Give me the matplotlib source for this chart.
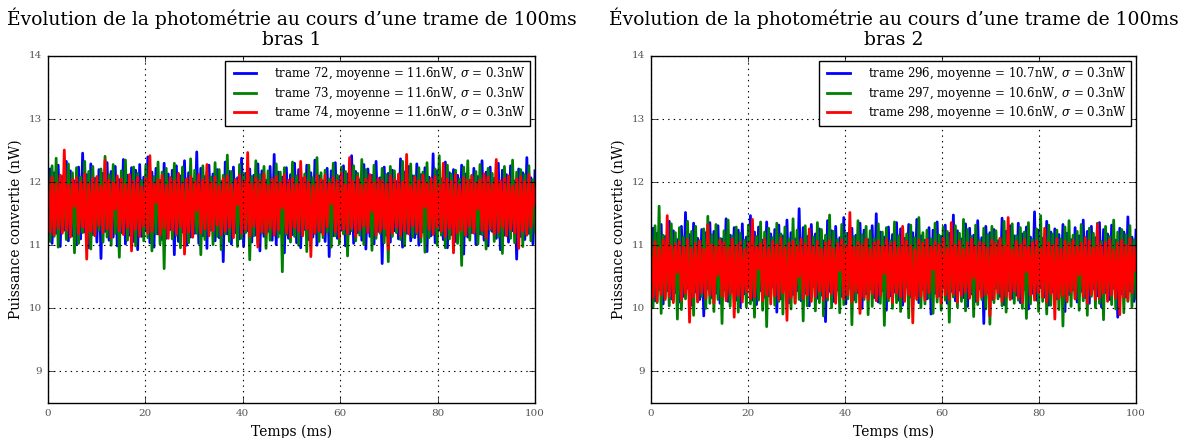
import numpy as np
import matplotlib
matplotlib.use("Agg")
import matplotlib.pyplot as plt

plt.style.use("classic")
plt.rcParams["font.family"] = ["DejaVu Serif"]
plt.rcParams["mathtext.fontset"] = "dejavuserif"

title_left = "Évolution de la photométrie au cours d\u2019une trame de 100ms\nbras 1"
title_right = "Évolution de la photométrie au cours d\u2019une trame de 100ms\nbras 2"
xlabel = "Temps (ms)"
ylabel = "Puissance convertie (nW)"

labels_left = ["trame 72, moyenne = 11.6nW, $\\sigma$ = 0.3nW",
               "trame 73, moyenne = 11.6nW, $\\sigma$ = 0.3nW",
               "trame 74, moyenne = 11.6nW, $\\sigma$ = 0.3nW"]
labels_right = ["trame 296, moyenne = 10.7nW, $\\sigma$ = 0.3nW",
                "trame 297, moyenne = 10.6nW, $\\sigma$ = 0.3nW",
                "trame 298, moyenne = 10.6nW, $\\sigma$ = 0.3nW"]
colors = ["blue", "green", "red"]

# ---- bras 1 (nW), trames 72 / 73 / 74 ----
b1 = [11.12, 12.21, 11.03, 12.15, 11.19, 12.27, 10.98, 12.09, 11.24, 12.33, 11.07, 12.18, 11.15, 12.02, 11.01,
      12.24, 11.10, 12.46, 11.21, 12.12, 10.96, 12.29, 11.17, 12.06, 11.05, 12.20, 10.79, 12.14, 11.22, 12.31,
      11.08, 12.17, 11.13, 12.25, 10.99, 12.04, 11.20, 12.36, 11.02, 12.11, 11.16, 12.23, 11.06, 12.19, 10.93,
      12.28, 11.14, 12.08, 11.23, 12.40, 11.04, 12.16, 10.97, 12.22, 11.18, 12.03, 11.09, 12.30, 11.11, 12.13,
      11.25, 12.19, 10.85, 12.26, 11.06, 12.10, 11.21, 12.34, 11.00, 12.15, 11.13, 12.05, 11.19, 12.48, 11.03,
      12.22, 11.15, 12.09, 10.95, 12.27, 11.24, 12.13, 11.07, 12.20, 11.12, 12.01, 10.74, 12.32, 11.18, 12.17,
      11.02, 12.24, 11.20, 12.07, 11.10, 12.38, 10.98, 12.14, 11.23, 12.21, 11.05, 12.11, 11.16, 12.29, 10.91,
      12.18, 11.14, 12.03, 11.22, 12.25, 11.08, 12.44, 11.01, 12.16, 11.19, 12.08, 10.88, 12.23, 11.11, 12.12,
      11.17, 12.30, 11.04, 12.20, 10.96, 12.06, 11.25, 12.27, 11.09, 12.15, 11.13, 12.35, 11.00, 12.10, 11.21,
      12.02, 11.06, 12.22, 10.82, 12.18, 11.15, 12.31, 11.11, 12.09, 11.24, 12.26, 10.99, 12.13, 11.18, 12.42,
      11.03, 12.17, 11.20, 12.04, 11.08, 12.28, 10.94, 12.21, 11.14, 12.11, 11.02, 12.33, 11.22, 12.07, 10.71,
      12.24, 11.16, 12.14, 11.05, 12.19, 11.23, 12.01, 11.10, 12.37, 10.97, 12.16, 11.19, 12.25, 11.07, 12.10,
      11.12, 12.29, 11.00, 12.12, 11.21, 12.23, 10.90, 12.08, 11.15, 12.45, 11.04, 12.18, 11.24, 12.05, 11.09,
      12.32, 10.96, 12.15, 11.17, 12.20, 11.06, 12.11, 11.25, 12.27, 10.86, 12.13, 11.13, 12.03, 11.20, 12.22,
      11.01, 12.09, 11.18, 12.34, 11.08, 12.16, 10.99, 12.24, 11.22, 12.06, 11.11, 12.30, 10.93, 12.19, 11.16,
      12.12, 11.05, 12.26, 11.23, 12.02, 10.78, 12.21, 11.14, 12.15, 11.09, 12.39, 11.19, 12.07, 11.02, 12.18]
g1 = [12.19, 11.06, 12.26, 11.14, 12.38, 10.97, 12.11, 11.22, 12.04, 11.09, 12.29, 11.17, 12.15, 10.88, 12.23,
      11.03, 12.08, 11.20, 12.33, 11.11, 12.17, 10.94, 12.25, 11.16, 12.02, 11.24, 12.21, 11.05, 12.41, 11.13,
      12.12, 11.00, 12.28, 11.19, 12.06, 10.81, 12.18, 11.23, 12.35, 11.08, 12.10, 11.15, 12.24, 10.99, 12.14,
      11.21, 12.03, 11.07, 12.27, 11.12, 12.20, 10.91, 12.09, 11.18, 12.32, 11.02, 12.16, 10.63, 12.22, 11.25,
      12.07, 11.10, 12.30, 11.16, 12.13, 10.96, 12.24, 11.21, 12.05, 11.04, 12.37, 11.13, 12.19, 11.19, 12.01,
      10.85, 12.26, 11.09, 12.15, 11.23, 12.08, 11.01, 12.31, 11.14, 12.20, 10.93, 12.11, 11.18, 12.43, 11.06,
      12.17, 11.24, 12.04, 10.98, 12.28, 11.11, 12.14, 11.20, 12.22, 10.77, 12.09, 11.15, 12.34, 11.03, 12.12,
      11.19, 12.25, 10.95, 12.18, 11.08, 12.06, 11.22, 12.29, 11.13, 12.16, 10.58, 12.23, 11.17, 12.02, 11.05,
      12.32, 11.14, 12.10, 11.00, 12.21, 11.24, 12.13, 10.90, 12.27, 11.10, 12.07, 11.19, 12.39, 11.06, 12.15,
      11.12, 12.19, 11.21, 12.05, 10.97, 12.30, 11.15, 12.11, 11.02, 12.24, 11.18, 12.17, 10.83, 12.08, 11.23,
      12.26, 11.07, 12.14, 11.16, 12.36, 11.01, 12.20, 11.24, 12.09, 10.92, 12.27, 11.11, 12.03, 11.19, 12.22,
      11.04, 12.12, 10.74, 12.25, 11.14, 12.18, 11.20, 12.06, 11.09, 12.33, 10.99, 12.15, 11.22, 12.29, 11.13,
      12.10, 11.18, 12.23, 11.05, 12.16, 10.89, 12.31, 11.12, 12.04, 11.23, 12.21, 11.00, 12.42, 11.16, 12.08,
      10.96, 12.27, 11.10, 12.13, 11.21, 12.19, 11.03, 12.05, 10.68, 12.24, 11.15, 12.34, 11.08, 12.11, 11.20,
      12.17, 11.02, 12.28, 11.17, 12.07, 10.94, 12.22, 11.24, 12.14, 11.06, 12.30, 11.13, 12.01, 10.87, 12.25,
      11.19, 12.09, 11.11, 12.35, 11.04, 12.16, 11.22, 12.20, 10.98, 12.12, 11.16, 12.26, 11.07, 12.04, 11.21]
r1 = [12.02, 11.21, 12.08, 11.16, 11.98, 11.27, 12.11, 11.19, 12.51, 11.24, 11.95, 11.13, 12.04, 11.62, 12.07,
      11.18, 12.00, 11.29, 12.13, 10.78, 11.97, 11.22, 12.06, 11.15, 12.09, 11.31, 11.94, 11.20, 12.35, 11.26,
      12.03, 11.12, 11.99, 11.57, 12.10, 11.23, 12.05, 11.17, 11.96, 11.28, 12.12, 10.91, 12.01, 11.25, 12.08,
      11.14, 11.93, 11.30, 12.06, 11.19, 12.42, 11.22, 11.98, 11.68, 12.04, 11.16, 12.11, 11.27, 11.95, 11.11,
      12.07, 11.24, 12.02, 11.18, 12.14, 11.29, 11.97, 10.86, 12.05, 11.21, 12.09, 11.13, 12.00, 11.55, 12.12,
      11.20, 12.03, 11.26, 12.28, 11.15, 11.99, 11.23, 12.08, 11.32, 11.94, 11.17, 12.06, 11.22, 12.10, 11.28,
      11.96, 11.12, 12.04, 11.64, 12.11, 11.19, 12.01, 11.25, 12.47, 11.14, 11.98, 11.30, 12.07, 10.97, 12.02,
      11.21, 12.13, 11.18, 11.95, 11.27, 12.05, 11.16, 12.09, 11.24, 11.99, 11.59, 12.12, 11.20, 12.03, 11.13,
      12.06, 11.28, 11.97, 11.22, 12.33, 11.15, 12.08, 11.26, 12.00, 10.82, 11.94, 11.19, 12.10, 11.23, 12.04,
      11.17, 12.11, 11.29, 11.98, 11.66, 12.07, 11.21, 12.02, 11.12, 12.14, 11.25, 11.96, 11.18, 12.39, 11.27,
      12.01, 11.14, 12.09, 11.24, 11.95, 11.30, 12.05, 11.20, 12.12, 11.53, 11.99, 11.16, 12.06, 11.22, 12.03,
      11.26, 11.97, 10.93, 12.10, 11.19, 12.04, 11.28, 12.13, 11.15, 12.00, 11.23, 12.44, 11.18, 11.94, 11.31,
      12.08, 11.21, 12.02, 11.13, 12.11, 11.61, 11.98, 11.25, 12.06, 11.17, 12.09, 11.29, 11.96, 11.22, 12.30,
      11.14, 12.05, 11.27, 12.01, 10.88, 12.12, 11.20, 11.95, 11.24, 12.07, 11.16, 12.03, 11.30, 12.10, 11.19,
      11.99, 11.57, 12.04, 11.23, 12.13, 11.12, 12.08, 11.26, 11.97, 11.18, 12.36, 11.21, 12.02, 11.28, 12.06,
      11.15, 12.10, 11.25, 11.94, 11.20, 12.05, 10.95, 12.09, 11.22, 12.01, 11.17, 12.12, 11.29, 11.98, 11.63]

# ---- bras 2 (nW), trames 296 / 297 / 298 ----
b2 = [10.21, 11.27, 10.12, 11.19, 10.30, 11.33, 10.07, 11.14, 10.28, 11.38, 10.15, 11.23, 10.25, 11.09, 10.10,
      11.30, 10.19, 11.52, 10.32, 11.17, 10.05, 11.35, 10.26, 11.11, 10.14, 11.25, 9.88, 11.20, 10.31, 11.36,
      10.17, 11.22, 10.24, 11.31, 10.08, 11.10, 10.29, 11.42, 10.11, 11.16, 10.27, 11.28, 10.13, 11.24, 10.02,
      11.34, 10.23, 11.13, 10.33, 11.47, 10.13, 11.21, 10.06, 11.29, 10.28, 11.08, 10.18, 11.37, 10.20, 11.18,
      10.34, 11.25, 9.94, 11.32, 10.15, 11.15, 10.30, 11.40, 10.09, 11.20, 10.22, 11.10, 10.28, 11.58, 10.12,
      11.28, 10.24, 11.14, 10.04, 11.33, 10.35, 11.18, 10.16, 11.26, 10.21, 11.07, 9.79, 11.39, 10.27, 11.23,
      10.11, 11.30, 10.29, 11.12, 10.19, 11.44, 10.07, 11.19, 10.32, 11.27, 10.14, 11.16, 10.25, 11.35, 10.00,
      11.24, 10.23, 11.09, 10.31, 11.31, 10.17, 11.50, 10.10, 11.21, 10.28, 11.13, 9.97, 11.29, 10.20, 11.17,
      10.26, 11.36, 10.13, 11.26, 10.05, 11.11, 10.34, 11.33, 10.18, 11.20, 10.22, 11.41, 10.09, 11.15, 10.30,
      11.08, 10.15, 11.28, 9.91, 11.24, 10.24, 11.37, 10.20, 11.14, 10.33, 11.32, 10.08, 11.19, 10.27, 11.48,
      10.12, 11.23, 10.29, 11.10, 10.17, 11.34, 10.03, 11.27, 10.23, 11.16, 10.11, 11.39, 10.31, 11.12, 9.76,
      11.30, 10.25, 11.20, 10.14, 11.25, 10.32, 11.07, 10.19, 11.43, 10.06, 11.22, 10.28, 11.31, 10.16, 11.15,
      10.21, 11.35, 10.09, 11.18, 10.30, 11.29, 9.99, 11.13, 10.24, 11.53, 10.13, 11.24, 10.33, 11.11, 10.18,
      11.38, 10.05, 11.21, 10.26, 11.26, 10.15, 11.17, 10.34, 11.33, 9.95, 11.19, 10.22, 11.09, 10.29, 11.28,
      10.10, 11.15, 10.27, 11.40, 10.17, 11.22, 10.08, 11.30, 10.31, 11.12, 10.20, 11.36, 10.02, 11.25, 10.25,
      11.18, 10.14, 11.32, 10.32, 11.08, 9.86, 11.27, 10.23, 11.21, 10.18, 11.45, 10.28, 11.13, 10.11, 11.24]
g2 = [11.24, 10.01, 11.31, 10.09, 11.62, 9.92, 11.16, 10.17, 11.09, 10.04, 11.34, 10.12, 11.20, 9.83, 11.28,
      9.98, 11.13, 10.15, 11.38, 10.06, 11.22, 9.89, 11.30, 10.11, 11.07, 10.19, 11.26, 10.00, 11.46, 10.08,
      11.17, 9.95, 11.33, 10.14, 11.11, 9.76, 11.23, 10.18, 11.40, 10.03, 11.15, 10.10, 11.29, 9.94, 11.19,
      10.16, 11.08, 10.02, 11.32, 10.07, 11.25, 9.86, 11.14, 10.13, 11.37, 9.97, 11.21, 9.71, 11.27, 10.20,
      11.12, 10.05, 11.35, 10.11, 11.18, 9.91, 11.29, 10.16, 11.10, 9.99, 11.42, 10.08, 11.24, 10.14, 11.06,
      9.80, 11.31, 10.04, 11.20, 10.18, 11.13, 9.96, 11.36, 10.09, 11.25, 9.88, 11.16, 10.13, 11.48, 10.01,
      11.22, 10.19, 11.09, 9.93, 11.33, 10.06, 11.19, 10.15, 11.27, 9.74, 11.14, 10.10, 11.39, 9.98, 11.17,
      10.14, 11.30, 9.90, 11.23, 10.03, 11.11, 10.17, 11.34, 10.08, 11.21, 9.73, 11.28, 10.12, 11.07, 10.00,
      11.37, 10.09, 11.15, 9.95, 11.26, 10.19, 11.18, 9.85, 11.32, 10.05, 11.12, 10.14, 11.44, 10.01, 11.20,
      10.07, 11.24, 10.16, 11.10, 9.92, 11.35, 10.10, 11.16, 9.97, 11.29, 10.13, 11.22, 9.78, 11.13, 10.18,
      11.31, 10.02, 11.19, 10.11, 11.41, 9.96, 11.25, 10.19, 11.14, 9.87, 11.32, 10.06, 11.08, 10.14, 11.27,
      9.99, 11.17, 9.75, 11.30, 10.09, 11.23, 10.15, 11.11, 10.04, 11.38, 9.94, 11.20, 10.17, 11.34, 10.08,
      11.15, 10.13, 11.28, 10.00, 11.21, 9.84, 11.36, 10.07, 11.09, 10.18, 11.26, 9.95, 11.47, 10.11, 11.13,
      9.91, 11.32, 10.05, 11.18, 10.16, 11.24, 9.98, 11.10, 9.72, 11.29, 10.10, 11.39, 10.03, 11.16, 10.15,
      11.22, 9.97, 11.33, 10.12, 11.12, 9.89, 11.27, 10.19, 11.19, 10.01, 11.35, 10.08, 11.06, 9.82, 11.30,
      10.14, 11.14, 10.06, 11.40, 9.99, 11.21, 10.17, 11.25, 9.93, 11.17, 10.11, 11.31, 10.02, 11.09, 10.16]
r2 = [10.98, 10.17, 11.05, 10.11, 10.96, 10.22, 11.08, 10.14, 11.47, 10.19, 10.99, 10.09, 11.02, 10.57, 11.06,
      10.13, 10.97, 10.24, 11.09, 9.78, 10.95, 10.18, 11.03, 10.10, 11.07, 10.25, 10.94, 10.16, 11.33, 10.21,
      11.01, 10.08, 10.98, 10.52, 11.08, 10.19, 11.04, 10.12, 10.96, 10.23, 11.10, 9.86, 11.00, 10.20, 11.05,
      10.10, 10.93, 10.26, 11.04, 10.15, 11.41, 10.18, 10.97, 10.63, 11.02, 10.12, 11.09, 10.22, 10.95, 10.07,
      11.06, 10.20, 11.01, 10.14, 11.11, 10.25, 10.96, 9.81, 11.03, 10.17, 11.07, 10.09, 10.99, 10.50, 11.10,
      10.16, 11.02, 10.21, 11.26, 10.11, 10.98, 10.19, 11.06, 10.27, 10.94, 10.13, 11.04, 10.18, 11.08, 10.23,
      10.95, 10.08, 11.03, 10.60, 11.09, 10.15, 11.00, 10.21, 11.52, 10.10, 10.97, 10.26, 11.05, 9.92, 11.01,
      10.17, 11.10, 10.14, 10.94, 10.23, 11.04, 10.12, 11.07, 10.20, 10.98, 10.55, 11.09, 10.16, 11.02, 10.09,
      11.05, 10.24, 10.96, 10.18, 11.30, 10.11, 11.06, 10.22, 10.99, 9.77, 10.93, 10.15, 11.08, 10.19, 11.03,
      10.13, 11.09, 10.25, 10.97, 10.62, 11.05, 10.17, 11.01, 10.08, 11.11, 10.21, 10.95, 10.14, 11.36, 10.23,
      11.00, 10.10, 11.07, 10.20, 10.94, 10.26, 11.04, 10.16, 11.10, 10.48, 10.98, 10.12, 11.05, 10.18, 11.02,
      10.22, 10.96, 9.88, 11.08, 10.15, 11.03, 10.24, 11.11, 10.11, 10.99, 10.19, 11.44, 10.14, 10.93, 10.27,
      11.06, 10.17, 11.01, 10.09, 11.09, 10.58, 10.97, 10.21, 11.04, 10.13, 11.07, 10.25, 10.95, 10.18, 11.27,
      10.10, 11.04, 10.23, 11.00, 9.83, 11.10, 10.16, 10.94, 10.20, 11.06, 10.12, 11.02, 10.26, 11.08, 10.15,
      10.98, 10.53, 11.03, 10.19, 11.12, 10.08, 11.07, 10.22, 10.96, 10.14, 11.34, 10.17, 11.01, 10.24, 11.05,
      10.11, 11.09, 10.21, 10.93, 10.16, 11.04, 9.90, 11.08, 10.18, 11.00, 10.13, 11.11, 10.25, 10.97, 10.60]

duration_ms = 100.0

fig = plt.figure(figsize=(11.84, 4.38), dpi=100, facecolor="white")
ax1 = fig.add_axes([48/1184, 1 - 403/438, (535-48)/1184, (403-56)/438])
ax2 = fig.add_axes([651/1184, 1 - 403/438, (1136-651)/1184, (403-56)/438])

for ax, series, labels, title in [(ax1, [b1, g1, r1], labels_left, title_left),
                                  (ax2, [b2, g2, r2], labels_right, title_right)]:
    for s, c, lab in zip(series, colors, labels):
        t = np.linspace(0, duration_ms, len(s))
        ax.plot(t, s, color=c, lw=2, label=lab)
    ax.set_xlim(0, 100)
    ax.set_ylim(8.5, 14)
    ax.set_xticks([0, 20, 40, 60, 80, 100])
    ax.set_yticks([9, 10, 11, 12, 13, 14])
    ax.grid(True, color="black", linestyle=":", linewidth=0.8)
    ax.tick_params(labelsize=7.5, labelcolor="#555555", direction="in", length=4)
    ax.set_xlabel(xlabel, fontsize=10)
    ax.set_ylabel(ylabel, fontsize=10)
    ax.set_title(title, fontsize=13.5, linespacing=1.1, pad=8)
    leg = ax.legend(loc="upper right", fontsize=8.5, fancybox=False, borderaxespad=0.4,
                    handlelength=2.5, labelspacing=0.2, handletextpad=1.2, borderpad=0.4)
    leg.get_frame().set_edgecolor("black")

fig.savefig("out.png", dpi=100, facecolor="white")
